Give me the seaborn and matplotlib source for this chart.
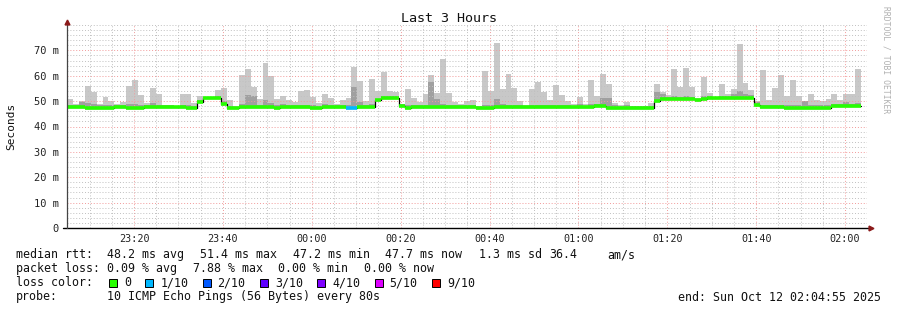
import numpy as np
import pandas as pd
import matplotlib
matplotlib.use("Agg")
import matplotlib.pyplot as plt
from matplotlib.patches import Rectangle
from matplotlib.ticker import FixedLocator, MultipleLocator
import seaborn as sns

# ---------------- data ----------------
title = "Last 3 Hours"
end_time = "2025-10-12 02:04:55"
window_s = 3 * 3600
step_s = 80

median_ms = [
    47.6, 47.6, 47.6, 47.3, 47.3, 47.3, 47.3, 47.3, 47.6, 47.6,
    47.3, 47.3, 47.3, 47.6, 47.6, 47.6, 47.5, 47.5, 47.5, 47.5,
    47.3, 47.2, 49.6, 51.2, 51.2, 51.2, 48.8, 47.2, 47.2, 47.5,
    47.5, 47.5, 47.5, 47.5, 47.5, 47.2, 47.5, 47.5, 47.5, 47.5,
    47.5, 47.2, 47.2, 47.5, 47.5, 47.5, 47.5, 47.2, 47.2, 47.5,
    47.5, 47.5, 50.3, 51.3, 51.3, 51.3, 48.2, 47.2, 47.6, 47.6,
    47.6, 47.6, 47.6, 47.6, 47.6, 47.6, 47.6, 47.6, 47.6, 47.4,
    47.4, 47.4, 47.6, 47.6, 47.6, 47.6, 47.6, 47.6, 47.6, 47.6,
    47.6, 47.6, 47.6, 47.6, 47.6, 47.6, 47.6, 47.6, 47.6, 48.0,
    48.0, 47.4, 47.4, 47.4, 47.4, 47.4, 47.4, 47.4, 47.4, 50.0,
    50.7, 50.7, 50.9, 51.0, 51.0, 51.0, 50.4, 50.9, 51.1, 51.1,
    51.1, 51.2, 51.2, 51.4, 51.4, 51.4, 48.3, 47.6, 47.6, 47.6,
    47.6, 47.3, 47.3, 47.3, 47.3, 47.3, 47.3, 47.3, 47.3, 48.0,
    48.0, 48.0, 48.0, 47.9,
]

smoke_max_ms = [
    50.7, 49.0, 50.0, 55.8, 53.5, 49.0, 51.5, 50.0, 48.8, 49.5,
    55.8, 58.2, 52.3, 49.2, 55.0, 52.7, 48.4, 48.4, 48.0, 53.0,
    53.0, 49.2, 52.0, 51.5, 51.5, 54.3, 55.0, 50.4, 48.0, 60.2,
    62.5, 55.5, 50.7, 64.9, 59.8, 51.0, 52.0, 50.4, 49.5, 53.9,
    54.3, 51.6, 49.1, 52.7, 51.1, 48.8, 50.3, 51.3, 63.3, 57.8,
    50.0, 58.6, 53.9, 61.3, 53.9, 53.5, 48.8, 54.7, 51.1, 49.5,
    52.7, 60.2, 53.2, 66.5, 53.2, 49.5, 48.8, 50.0, 50.3, 48.0,
    61.7, 53.9, 73.1, 54.7, 60.6, 55.0, 50.0, 48.4, 54.7, 57.4,
    53.5, 50.3, 56.2, 52.3, 50.0, 48.8, 51.5, 48.8, 58.2, 51.9,
    60.6, 56.6, 49.2, 48.4, 49.5, 48.0, 48.0, 48.0, 49.2, 56.6,
    53.5, 52.3, 62.5, 55.4, 62.9, 55.4, 51.1, 59.4, 53.1, 51.1,
    56.6, 52.7, 54.7, 72.7, 57.0, 54.3, 50.0, 62.1, 50.3, 55.0,
    60.2, 51.9, 58.2, 51.9, 49.5, 52.7, 50.3, 50.0, 50.8, 52.7,
    50.3, 52.7, 53.0, 62.5,
]

smoke_mid_ms = [
    48.6, 48.5, 49.5, 49.3, 49.0, 48.5, 48.5, 48.5, 48.6, 48.6,
    49.0, 48.8, 48.4, 48.6, 49.2, 48.6, 48.4, 48.4, 48.0, 48.5,
    48.5, 48.2, 50.4, 51.5, 51.5, 52.0, 50.0, 48.2, 47.8, 49.0,
    52.5, 52.0, 48.6, 50.5, 49.4, 48.3, 48.8, 48.5, 48.3, 48.6,
    48.6, 48.3, 48.2, 49.0, 48.6, 48.3, 48.6, 48.4, 55.6, 49.5,
    48.6, 48.8, 51.0, 52.2, 52.2, 52.2, 48.8, 48.4, 48.5, 48.5,
    48.5, 57.4, 51.0, 48.8, 48.5, 48.4, 48.3, 48.5, 48.5, 48.0,
    48.5, 48.6, 51.0, 49.0, 48.6, 48.6, 48.4, 48.0, 48.6, 48.6,
    48.6, 48.4, 48.6, 48.6, 48.4, 48.2, 49.0, 48.2, 49.0, 49.0,
    51.1, 51.1, 48.4, 48.2, 48.4, 47.9, 47.9, 47.9, 48.2, 53.5,
    53.0, 51.8, 52.0, 51.8, 52.0, 51.8, 51.0, 52.0, 52.0, 51.6,
    52.0, 52.2, 53.0, 54.0, 53.0, 52.4, 49.5, 48.6, 48.4, 48.6,
    48.6, 48.4, 48.6, 48.4, 50.0, 48.6, 48.4, 48.4, 48.4, 49.0,
    48.8, 49.6, 49.0, 49.2,
]

# loss bucket per sample (index into loss_labels)
loss_bucket = [0] * 47 + [1, 1] + [0] * 85

loss_labels = ["0", "1/10", "2/10", "3/10", "4/10", "5/10", "9/10"]
loss_colors = ["#26ff00", "#00b8ff", "#0059ff", "#5e00ff", "#7e00ff", "#dd00ff", "#ff0000"]

y_ticks_ms = [0, 10, 20, 30, 40, 50, 60, 70]
x_tick_labels = ["23:20", "23:40", "00:00", "00:20", "00:40", "01:00", "01:20", "01:40", "02:00"]

stats_rtt = ["median rtt:", "48.2 ms avg", "51.4 ms max", "47.2 ms min", "47.7 ms now",
             "1.3 ms sd", "36.4", "am/s"]
stats_loss = ["packet loss:", "0.09 % avg", "7.88 % max", "0.00 % min", "0.00 % now"]
probe_text = "10 ICMP Echo Pings (56 Bytes) every 80s"

# ---------------- style ----------------
sns.set_style("white")
plt.rcParams["font.family"] = ["DejaVu Sans Mono", "DejaVu Sans"]
MONO = ["DejaVu Sans Mono", "DejaVu Sans"]

W, H = 897, 310
fig = plt.figure(figsize=(W / 100, H / 100), dpi=100)
fig.patch.set_facecolor("white")
ax = fig.add_axes([67 / W, 1 - 228 / H, 800 / W, 203 / H])
ax.set_facecolor("white")

end = pd.Timestamp(end_time)
start = end - pd.Timedelta(seconds=window_s)
n = len(median_ms)
x_left = np.arange(n) * step_s

med = np.array(median_ms)
smax = np.array(smoke_max_ms)
smid = np.array(smoke_mid_ms)

# smoke layers
ax.bar(x_left, smax - med, bottom=med, width=step_s, align="edge",
       color="#c8c8c8", linewidth=0, zorder=1)
ax.bar(x_left, smid - med, bottom=med, width=step_s, align="edge",
       color="#a0a0a0", linewidth=0, zorder=1.1)

# median black step line
step_df = pd.DataFrame({"t": np.append(x_left, x_left[-1] + step_s),
                        "m": np.append(med, med[-1])})
sns.lineplot(data=step_df, x="t", y="m", drawstyle="steps-post", color="black",
             linewidth=0.9, ax=ax, zorder=3)
# loss-coloured median segments
ax.hlines(med, x_left, x_left + step_s,
          colors=[loss_colors[b] for b in loss_bucket], linewidth=2.6, zorder=4)
ax.set_xlabel("")
ax.set_ylabel("")

# axes limits & ticks
ax.set_xlim(0, window_s)
ax.set_ylim(0, 80)


def label_pos(lbl):
    t = pd.Timestamp(f"{start.date()} {lbl}")
    if t < start:
        t += pd.Timedelta(days=1)
    return (t - start).total_seconds()


xt = [label_pos(l) for l in x_tick_labels]
first5 = (start.ceil("5min") - start).total_seconds()
minor_x = np.arange(first5, window_s, 300)
ax.xaxis.set_major_locator(FixedLocator(xt))
ax.set_xticklabels(x_tick_labels)
ax.xaxis.set_minor_locator(FixedLocator(minor_x))
ax.yaxis.set_major_locator(FixedLocator(y_ticks_ms))
ax.set_yticklabels([("0" if v == 0 else f"{v} m") for v in y_ticks_ms])
ax.yaxis.set_minor_locator(MultipleLocator(2))

ax.tick_params(axis="both", which="both", length=0)
ax.tick_params(axis="x", pad=4, labelsize=7.3, labelcolor="#222222")
ax.tick_params(axis="y", pad=6, labelsize=7.5, labelcolor="#222222")
for lab in ax.get_xticklabels() + ax.get_yticklabels():
    lab.set_family(MONO)

ax.set_axisbelow(False)
ax.grid(which="minor", color="#c0c0c0", linestyle=(0, (1, 2)), linewidth=0.7)
ax.grid(which="major", color="#f29a9a", linestyle=(0, (1, 2)), linewidth=0.7)
for gl in ax.get_xgridlines() + ax.get_ygridlines():
    gl.set_zorder(2)

for s in ["top", "right", "left", "bottom"]:
    ax.spines[s].set_visible(False)

# axis lines + arrows (RRDtool style)
ax.plot([-0.005, 1.004], [0, 0], transform=ax.transAxes, color="black",
        linewidth=1.0, clip_on=False, zorder=5)
ax.plot([0, 0], [0, 1.012], transform=ax.transAxes, color="#444444",
        linewidth=0.9, clip_on=False, zorder=5)
ax.plot([1.005], [0], transform=ax.transAxes, marker=">", markersize=3.5,
        color="#8b1a1a", clip_on=False, zorder=6)
ax.plot([0], [1.016], transform=ax.transAxes, marker="^", markersize=3.5,
        color="#8b1a1a", clip_on=False, zorder=6)

# titles and labels
fig.text(0.5, 1 - 19 / H, title, ha="center", va="center", fontsize=9.6,
         family=MONO, color="#111111")
fig.text(11 / W, 1 - 126 / H, "Seconds", rotation=90, ha="center", va="center",
         fontsize=8, family=MONO, color="#111111")
fig.text(886 / W, 1 - 60 / H, "RRDTOOL / TOBI OETIKER", rotation=270,
         ha="center", va="center", fontsize=5.8, family=MONO, color="#b0b0b0")

FS = 8.4
# line 1
rtt_x = [16, 107, 200, 293, 385, 479, 549, 607]
for xx, s in zip(rtt_x, stats_rtt):
    fig.text(xx / W, 1 - 254.5 / H, s, ha="left", va="center", fontsize=FS,
             family=MONO, color="#111111")
# line 2
loss_x = [16, 107, 193, 278, 364]
for xx, s in zip(loss_x, stats_loss):
    fig.text(xx / W, 1 - 268.5 / H, s, ha="left", va="center", fontsize=FS,
             family=MONO, color="#111111")
# line 3 : loss colours
yline3 = 282.5
fig.text(16 / W, 1 - yline3 / H, "loss color:", ha="left", va="center",
         fontsize=FS, family=MONO, color="#111111")
bx = 109.0
for lbl, col in zip(loss_labels, loss_colors):
    fig.add_artist(Rectangle((bx / W, 1 - (yline3 + 4) / H), 8 / W, 8 / H,
                             transform=fig.transFigure, facecolor=col,
                             edgecolor="black", linewidth=0.7))
    tx = bx + 15
    fig.text(tx / W, 1 - yline3 / H, lbl, ha="left", va="center", fontsize=FS,
             family=MONO, color="#111111")
    bx = tx + len(lbl) * 7.0 + 14.3
# line 4
fig.text(16 / W, 1 - 296.5 / H, "probe:", ha="left", va="center", fontsize=FS,
         family=MONO, color="#111111")
fig.text(107 / W, 1 - 296.5 / H, probe_text, ha="left", va="center",
         fontsize=FS, family=MONO, color="#111111")
fig.text(678 / W, 1 - 297.5 / H, "end: " + end.strftime("%a %b %d %H:%M:%S %Y"),
         ha="left", va="center", fontsize=FS, family=MONO, color="#111111")

fig.savefig("out.png", dpi=100, facecolor="white")
